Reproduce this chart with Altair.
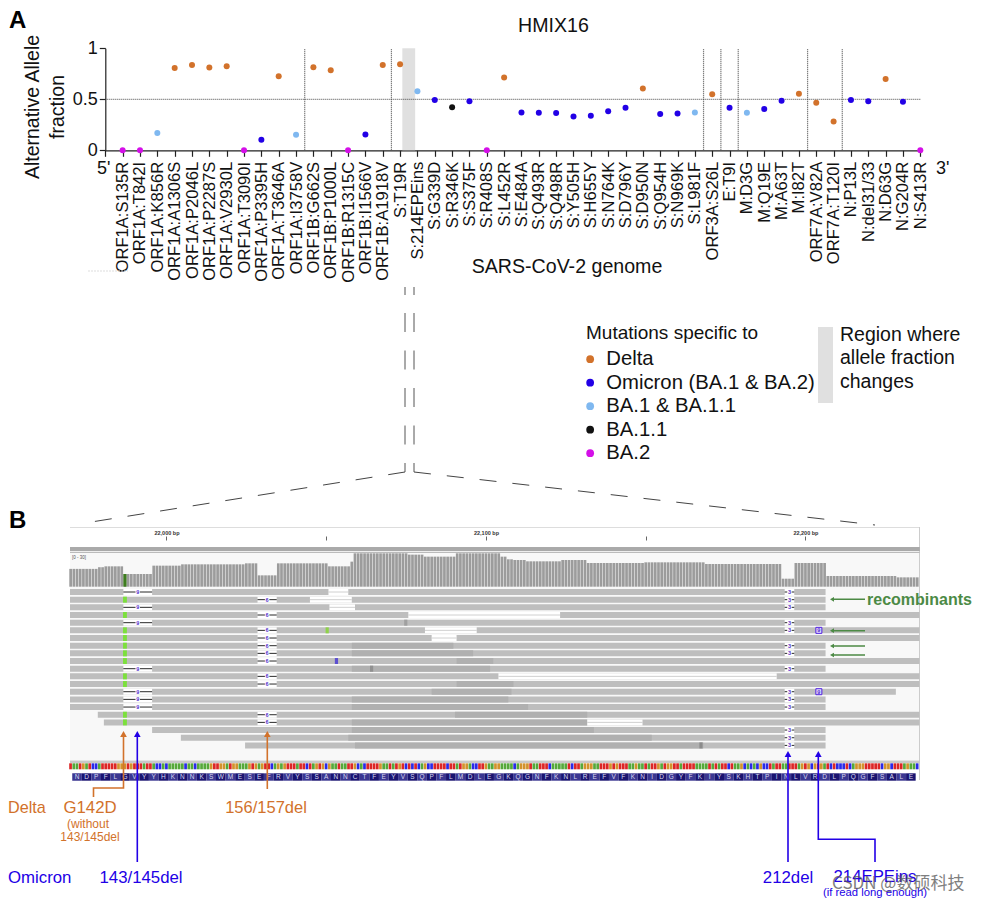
import altair as alt
import pandas as pd

FONT = "Liberation Sans"
ORANGE = "#D2722B"
BLUE = "#2200E6"
GREEN = "#4C8A45"
PURPLE = "#5533CC"

# ---------- Panel A data ----------
mutations = ["ORF1A:S135R","ORF1A:T842I","ORF1A:K856R","ORF1A:A1306S","ORF1A:P2046L","ORF1A:P2287S",
 "ORF1A:V2930L","ORF1A:T3090I","ORF1A:P3395H","ORF1A:T3646A","ORF1A:I3758V","ORF1B:G662S","ORF1B:P1000L",
 "ORF1B:R1315C","ORF1B:I1566V","ORF1B:A1918V","S:T19R","S:214EPEins","S:G339D","S:R346K","S:S375F","S:R408S",
 "S:L452R","S:E484A","S:Q493R","S:Q498R","S:Y505H","S:H655Y","S:N764K","S:D796Y","S:D950N","S:Q954H","S:N969K",
 "S:L981F","ORF3A:S26L","E:T9I","M:D3G","M:Q19E","M:A63T","M:I82T","ORF7A:V82A","ORF7A:T120I","N:P13L",
 "N:del31/33","N:D63G","N:G204R","N:S413R"]
fractions = [0,0,.17,.808,.837,.811,.824,0,.104,.726,.153,.814,.785,0,.156,.837,.844,.58,.492,.423,.482,0,.713,
 .371,.368,.365,.332,.339,.384,.417,.606,.355,.362,.371,.55,.417,.368,.404,.485,.554,.466,.283,.492,.482,.70,.476,0]
D, O, L, K, M = "Delta", "Omicron (BA.1 & BA.2)", "BA.1 & BA.1.1", "BA.1.1", "BA.2"
lineage = [M,M,L,D,D,D,D,M,O,D,L,D,D,M,O,D,D,L,O,K,O,M,D,O,O,O,O,O,O,O,D,O,O,L,D,O,L,O,O,D,D,D,O,O,D,O,M]
lineage_order = [D, O, L, K, M]
lineage_colors = [ORANGE, BLUE, "#7FB8F0", "#111111", "#D40FE8"]
gene_boundaries = [10.5, 15.5, 33.5, 34.5, 35.5, 39.5, 41.5]

# ---------- Panel B data ----------
codons = ("AAT GAT CCA TTT TTG GGT GTT TAT TAC CAC AAA AAC AAC AAA AGT TGG ATG GAA AGT GAG TTC AGA GTT TAT TCT AGT "
          "GCG AAT AAT TGC ACT TTT GAA TAT GTC TCT CAG CCT TTT CTT ATG GAC CTT GAA GGA AAA CAG GGT AAT TTC AAA AAT "
          "CTT AGG GAA TTT GTG TTT AAG AAT ATT GAT GGT TAT TTT AAA ATA TAT TCT AAG CAC ACG CCT ATT AAT TTA GTG CGT "
          "GAT CTC CCT CAG GGT TTT TCG GCT TTA GAA").split()
amino = list("NDPFLGVYYHKNNKSWMESEFRVYSSANNCTFEYVSQPFLMDLEGKQGNFKNLREFVFKNIDGYFKIYSKHTPINLVRDLPQGFSALE")
coverage_runs = [(21970,21978,16),(21979,21980,17.5),(21981,21986,18.3),(21987,21995,11.4),(21996,22004,18.9),
 (22005,22024,20.1),(22025,22028,21),(22029,22034,10.2),(22035,22050,21),(22051,22057,18.3),(22058,22058,22.5),
 (22059,22075,30),(22076,22080,28.8),(22081,22090,27),(22091,22104,30),(22105,22106,27),(22107,22108,24.6),
 (22109,22112,24),(22113,22123,22.8),(22124,22131,24),(22132,22149,21.3),(22150,22168,21.9),(22169,22192,20.4),
 (22193,22196,7.2),(22197,22206,21.3),(22207,22228,9.6),(22229,22235,8.4)]
S, E, X = 21969.8, 22235.7, 22206.3
reads = [(0,S,X),(1,S,X),(2,S,X),(3,S,E),(4,S,X),(5,S,E),(6,S,E),(7,S,X),(8,S,X),(9,S,E),(10,S,X),(11,S,E),(12,S,E),
 (13,S,22228.3),(14,S,X),(15,S,X),(16,21978.5,E),(17,21980.4,E),(18,21995.5,X),(19,22004.5,X),(20,22024.6,X)]
overlaps = [(7,22058,22089.8),(8,22058,22096),(9,22090.8,22102.3),(10,22058,22101.3),(12,22090.8,22108.6),
 (13,22083,22108),(14,22058,22107),(15,22058,22113.2),(16,22090.3,22131.7),(17,22058,22131.7),(18,22058,22133.8),
 (19,22056.9,22151.9),(20,22059,22168)]
skips = [(0,22050.7,22056.9),(1,22044.9,22058),(2,22051,22059),(3,22075.7,22123.2),(5,22080.9,22097.1),
 (6,22083,22090.8),(11,22103.9,22191),(17,22131.7,22149)]
del9_rows = [0,2,4,10,13,14,15]
del6_rows = [1,3,5,6,7,8,9,11,12,16,17]
del3_rows = [0,1,2,4,5,7,8,10,13,14,15,18,19,20]
g142d_rows = [1,3,5,6,7,8,9,11,12,16,17]
snv_marks = [(5,22049.8,"#8FD24A"),(9,22052.7,"#5C4FD0"),(10,22063.7,"#909090"),(20,22166.8,"#8B8B8B"),(4,22074.4,"#A0A0A0")]
ins_rows = [5,13]
BASE_COL = {"A":"#55A83A","C":"#2A2AE8","G":"#D2922C","T":"#DC2626"}

# ---------- scales ----------
PX = alt.Scale(domain=[0,983], range=[-8,975], zero=False, nice=False)
PY = alt.Scale(domain=[0,902], range=[-8,894], zero=False, nice=False)
BP = alt.Scale(domain=[S,E], range=[62,911.5], zero=False, nice=False)
ROW = alt.Scale(domain=[0,20], range=[584,737.4], zero=False, nice=False)
COV = alt.Scale(domain=[0,30], range=[578.7,545.3], zero=False, nice=False)
FA = alt.Scale(domain=[0,1], range=[142.3,40.3], zero=False, nice=False)
IDX = alt.Scale(domain=[-1,46], range=[97.3,912.3], zero=False, nice=False)

dummy = pd.DataFrame({"a":[0]})
def T(text, x, y, size, color="#111111", align="left", angle=0, weight="normal", font=FONT, opacity=1):
    return alt.Chart(dummy).mark_text(align=align, baseline="middle", fontSize=size, color=color, angle=angle,
        fontWeight=weight, font=font, opacity=opacity).encode(x=alt.value(x-8), y=alt.value(y-8), text=alt.value(text))
def R(x, x2, y, y2, color):
    return alt.Chart(dummy).mark_rect(color=color).encode(x=alt.value(x-8), x2=alt.value(x2-8), y=alt.value(y-8), y2=alt.value(y2-8))
def LN(x, x2, y, y2, color, width=1, dash=None):
    kw = {"strokeDash":dash} if dash else {}
    return alt.Chart(dummy).mark_rule(color=color, strokeWidth=width, **kw).encode(
        x=alt.value(x-8), x2=alt.value(x2-8), y=alt.value(y-8), y2=alt.value(y2-8))

layers = []
# ---- Panel A
pts = pd.DataFrame({"m":mutations,"f":fractions,"g":lineage})
layers.append(alt.Chart(pd.DataFrame({"a":[16.13],"b":[16.87],"y0":[0],"y1":[1]})).mark_rect(color="#E0E0E0").encode(
    x=alt.X("a:Q",scale=IDX,axis=None), x2="b:Q", y=alt.Y("y0:Q",scale=FA,axis=None), y2="y1:Q"))
layers.append(alt.Chart(pd.DataFrame({"b":gene_boundaries,"y0":[0]*7,"y1":[1]*7})).mark_rule(color="#555555",strokeWidth=1.2,strokeDash=[1,1]).encode(
    x=alt.X("b:Q",scale=IDX,axis=None), y=alt.Y("y0:Q",scale=FA,axis=None), y2="y1:Q"))
layers.append(alt.Chart(pd.DataFrame({"a":[-1],"b":[46],"y":[0.5]})).mark_rule(color="#444444",strokeWidth=1,strokeDash=[1,1]).encode(
    x=alt.X("a:Q",scale=IDX,axis=None), x2="b:Q", y=alt.Y("y:Q",scale=FA,axis=None)))
x_domain = ["5'"] + mutations
layers.append(alt.Chart(pts).mark_circle(size=36, opacity=1).encode(
    x=alt.X("m:N", sort=x_domain, title=None,
        scale=alt.Scale(type="point", domain=x_domain, range=[97.3,912.3], padding=0),
        axis=alt.Axis(orient="bottom", offset=-749.7, labelAngle=270, labelAlign="right", labelBaseline="middle",
            labelFont=FONT, labelFontSize=16.6, labelColor="#111111", labelPadding=5, labelOverlap=False, labelBound=False,
            labelExpr="datum.value == \"5'\" ? '' : datum.label", tickSize=6, tickColor="#222222", domainColor="#222222",
            tickWidth=1.2, domainWidth=1.2, grid=False, labelLimit=300)),
    y=alt.Y("f:Q", title=None, scale=FA,
        axis=alt.Axis(orient="left", offset=-97.3, values=[0,0.5,1], labelExpr="datum.value==0.5?'0.5':datum.value==0?'0':'1'", labelFont=FONT,
            labelFontSize=18, labelColor="#111111", tickSize=6, tickColor="#222222", domainColor="#222222", tickWidth=1.2,
            domainWidth=1.2, grid=False, labelPadding=2)),
    color=alt.Color("g:N", scale=alt.Scale(domain=lineage_order, range=lineage_colors),
        legend=alt.Legend(orient="none", legendX=572, legendY=341, title=None,
            labelFont=FONT, labelFontSize=20.3, labelColor="#111111", labelLimit=400, symbolType="circle", symbolSize=60,
            symbolOpacity=1, rowPadding=2.5, labelOffset=6))))

layers += [
 T("A",9,21,24,weight="bold",color="#000000"),
 T("B",9,521,24,weight="bold",color="#000000"),
 T("HMIX16",553.5,26,19.6,align="center"),
 T("Alternative Allele",33,107,19.5,align="center",angle=270),
 T("fraction",58,107,19.5,align="center",angle=270),
 T("5'",97,169,18),
 T("3'",936,169,18),
 T("SARS-CoV-2 genome",567,267,19.6,align="center"),
 LN(88,128,271,271,"#DDDDDD",dash=[2,1]),
 T("Mutations specific to",586,333,19),
 R(818,833,327,403,"#E0E0E0"),
 T("Region where",840,335,19.5),
 T("allele fraction",840,358,19.5),
 T("changes",840,382,19.5),
]
# zoom guides
layers += [LN(x,x,287,295,"#555555") for x in (405,414)]
layers += [LN(x,x,313,472,"#555555",dash=[19,18.5]) for x in (405,414)]
layers += [LN(405,85,472,523,"#444444",dash=[17,16]), LN(414,875,472,525,"#444444",dash=[17,16])]

# ---- Panel B frame
layers += [
 R(70,919.5,553,760,"#F8F8F8"),
 LN(70,919.5,527.5,527.5,"#DDDDDD"),
 LN(919.5,919.5,527,780,"#CCCCCC"),
 LN(70,919.5,548,548,"#555555"),
 LN(70,919.5,550,550,"#555555"),
 LN(70,919.5,552.3,552.3,"#AAAAAA"),
 R(70,919.5,760.5,763,"#C8C8C8"),
 T("[0 - 30]",72,558,4.5,color="#555555"),
]
# coverage, bp by bp from the runs
cov = pd.DataFrame([{"a":b-0.42,"b":b+0.42,"v":v,"z":0} for s,e,v in coverage_runs for b in range(s,e+1)])
layers.append(alt.Chart(cov).mark_rect(color="#9C9C9C").encode(
    x=alt.X("a:Q",scale=BP,axis=alt.Axis(orient="top",offset=-532,values=[22000,22050,22100,22150,22200],
        labelExpr="datum.value%100==0 ? format(datum.value,',')+' bp' : ''",domain=False,grid=False,tickSize=4,
        tickColor="#666666",labelFontSize=5.5,labelFontWeight="bold",labelFont=FONT,labelColor="#333333",labelPadding=1,title=None,labelOverlap=False)),
    x2="b:Q",y=alt.Y("z:Q",scale=COV,axis=None),y2="v:Q"))
layers.append(alt.Chart(pd.DataFrame({"a":[21986.5],"b":[21987.5],"z":[0],"v":[11.4]})).mark_rect(color="#3E7D1F").encode(
    x=alt.X("a:Q",scale=BP,axis=None),x2="b:Q",y=alt.Y("z:Q",scale=COV,axis=None),y2="v:Q"))

def row_rules(df, color, width=6, extra=None):
    return alt.Chart(df).mark_rule(color=color,strokeWidth=width).encode(
        x=alt.X("s:Q",scale=BP,axis=None),x2="e:Q",y=alt.Y("r:Q",scale=ROW,axis=None))
cols = ["r","s","e"]
layers.append(row_rules(pd.DataFrame(reads,columns=cols),"#BEBEBE"))
layers.append(row_rules(pd.DataFrame(overlaps,columns=cols),"#B0B0B0"))
layers.append(row_rules(pd.DataFrame(skips,columns=cols),"#FFFFFF"))
layers.append(row_rules(pd.DataFrame(skips,columns=cols),"#C4C4C4",width=0.8))
dels = pd.DataFrame([(r,21986.5,21995.5,"9") for r in del9_rows]+[(r,22028.5,22034.5,"6") for r in del6_rows]+
                    [(r,22193.5,22196.5,"3") for r in del3_rows],columns=["r","s","e","t"])
dels["m"] = (dels.s+dels.e)/2
layers.append(row_rules(dels,"#FFFFFF"))
layers.append(row_rules(dels,"#111111",width=0.9))
layers.append(alt.Chart(dels).mark_square(color="#FFFFFF",size=20,opacity=1).encode(
    x=alt.X("m:Q",scale=BP,axis=None),y=alt.Y("r:Q",scale=ROW,axis=None)))
layers.append(alt.Chart(dels).mark_text(color=PURPLE,fontSize=5.5,fontWeight="bold",font=FONT).encode(
    x=alt.X("m:Q",scale=BP,axis=None),y=alt.Y("r:Q",scale=ROW,axis=None),text="t:N"))
layers.append(row_rules(pd.DataFrame([(r,21986.4,21987.6) for r in g142d_rows],columns=cols),"#7CE03C"))
snv = pd.DataFrame(snv_marks,columns=["r","s","c"]); snv["e"]=snv.s+1
layers.append(alt.Chart(snv).mark_rule(strokeWidth=6).encode(
    x=alt.X("s:Q",scale=BP,axis=None),x2="e:Q",y=alt.Y("r:Q",scale=ROW,axis=None),color=alt.Color("c:N",scale=None)))
ins = pd.DataFrame({"r":ins_rows,"m":[22204.2]*2,"t":["9"]*2})
layers.append(alt.Chart(ins).mark_square(fill="#E4DEFF",stroke="#5020E0",strokeWidth=1,size=36,opacity=1).encode(
    x=alt.X("m:Q",scale=BP,axis=None),y=alt.Y("r:Q",scale=ROW,axis=None)))
layers.append(alt.Chart(ins).mark_text(color=PURPLE,fontSize=5.5,fontWeight="bold",font=FONT).encode(
    x=alt.X("m:Q",scale=BP,axis=None),y=alt.Y("r:Q",scale=ROW,axis=None),text="t:N"))

# nucleotide and amino-acid strips
seq = "T" + "".join(codons) + "C"
nt = pd.DataFrame([{"a":21970+i-0.45,"b":21970+i+0.4,"c":BASE_COL[ch]} for i,ch in enumerate(seq)])
layers.append(alt.Chart(nt).mark_rect().encode(
    x=alt.X("a:Q",scale=BP,axis=None),x2="b:Q",y=alt.value(755.3),y2=alt.value(761.3),color=alt.Color("c:N",scale=None)))
aa = pd.DataFrame([{"a":21970.5+3*i,"b":21973.5+3*i,"m":21972+3*i,"t":ch,"c":"#1A1470" if i%2 else "#3B3791"} for i,ch in enumerate(amino)])
layers.append(alt.Chart(aa).mark_rect().encode(
    x=alt.X("a:Q",scale=BP,axis=None),x2="b:Q",y=alt.value(765.3),y2=alt.value(772.7),color=alt.Color("c:N",scale=None)))
layers.append(alt.Chart(aa).mark_text(color="#D8D8F0",fontSize=6.5,font=FONT).encode(
    x=alt.X("m:Q",scale=BP,axis=None),y=alt.value(769.2),text="t:N"))

# callout lines and arrowheads (page coordinates)
polylines = {
 ("g142",ORANGE):[(123.5,735),(123.5,788),(93.5,788),(93.5,797)],
 ("156",ORANGE):[(267.3,735),(267.3,789)],
 ("143",BLUE):[(137.3,735),(137.3,862)],
 ("212",BLUE):[(788,755),(788,862)],
 ("214",BLUE):[(818.3,755),(818.3,839.3),(875,839.3),(875,862)],
}
rows=[]
for (k,c),p in polylines.items():
    for i,(x,y) in enumerate(p):
        rows.append({"k":k,"c":c,"x":x,"y":y,"o":i})
layers.append(alt.Chart(pd.DataFrame(rows)).mark_line(strokeWidth=1.6).encode(
    x=alt.X("x:Q",scale=PX,axis=None),y=alt.Y("y:Q",scale=PY,axis=None),detail="k:N",order="o:Q",color=alt.Color("c:N",scale=None)))
heads = pd.DataFrame({"x":[123.5,267.3,137.3,788,818.3],"y":[734,734,734,754,754],"c":[ORANGE,ORANGE,BLUE,BLUE,BLUE]})
layers.append(alt.Chart(heads).mark_point(shape="triangle-up",filled=True,size=45,opacity=1).encode(
    x=alt.X("x:Q",scale=PX,axis=None),y=alt.Y("y:Q",scale=PY,axis=None),color=alt.Color("c:N",scale=None)))
# recombinant arrows
rec = pd.DataFrame({"x":[832]*4,"x2":[865]*4,"y":[599.3,630.7,646,655]})
layers.append(alt.Chart(rec).mark_rule(color=GREEN,strokeWidth=1.4).encode(
    x=alt.X("x:Q",scale=PX,axis=None),x2="x2:Q",y=alt.Y("y:Q",scale=PY,axis=None)))
layers.append(alt.Chart(rec).mark_point(shape="triangle-left",filled=True,size=22,color=GREEN,opacity=1).encode(
    x=alt.X("x:Q",scale=PX,axis=None),y=alt.Y("y:Q",scale=PY,axis=None)))

layers += [
 T("recombinants",867,600,16,color=GREEN,weight="bold"),
 T("Delta",8,808,16.2,color=ORANGE),
 T("G142D",90,808,16.8,color=ORANGE,align="center"),
 T("(without",88,824,12,color=ORANGE,align="center"),
 T("143/145del",90,837,12,color=ORANGE,align="center"),
 T("156/157del",266,808,16.5,color=ORANGE,align="center"),
 T("Omicron",8,878,16.8,color=BLUE),
 T("143/145del",141,878,16.8,color=BLUE,align="center"),
 T("212del",788,878,16.8,color=BLUE,align="center"),
 T("214EPEins",875,877,16.8,color=BLUE,align="center"),
 T("(if read long enough)",875,893,11.3,color=BLUE,align="center"),
 T("CSDN @数硕科技",832,884,17,color="#555555",font="Noto Sans CJK SC",opacity=0.75),
]

chart = alt.layer(*layers).resolve_scale(x="independent", y="independent", color="independent").properties(
    width=967, height=892, padding=0, autosize=alt.AutoSizeParams(type="none"), background="#FFFFFF"
).configure_view(stroke=None)

chart.save("out.html", embed_options={"renderer": "svg", "actions": False})
